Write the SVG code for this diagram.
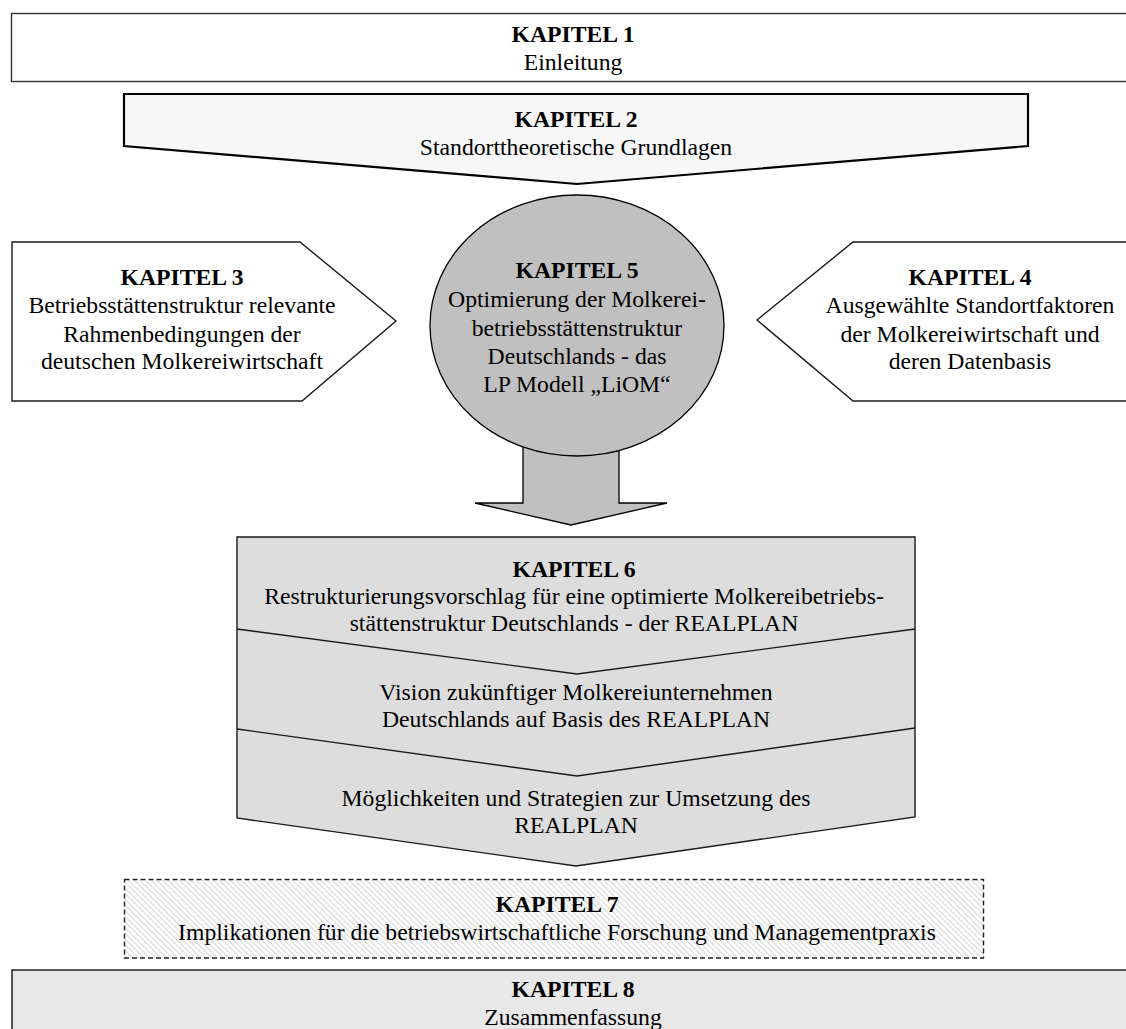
<svg xmlns="http://www.w3.org/2000/svg" width="1126" height="1029" viewBox="0 0 1126 1029">
  <style>
    text { font-family: 'Liberation Serif', Tinos, 'DejaVu Serif', serif; font-size: 23.7px; fill: #000; text-anchor: middle; }
    .b { font-weight: bold; }
    .thin { stroke: #1a1a1a; stroke-width: 1.4; }
  </style>
  <defs>
    <pattern id="hatch" width="4" height="4" patternUnits="userSpaceOnUse" patternTransform="rotate(-45)">
      <rect width="4" height="4" fill="#ffffff"/>
      <line x1="0" y1="0" x2="0" y2="4" stroke="#c4c4c4" stroke-width="1.4"/>
    </pattern>
  </defs>

  <rect width="1126" height="1029" fill="#ffffff"/>

  <!-- Chapter 1 -->
  <g id="kapitel1">
    <rect x="11.5" y="13.5" width="1130" height="68" fill="#ffffff" stroke="#333" stroke-width="1.4"/>
    <text class="b" x="573" y="42">KAPITEL 1</text>
    <text x="573" y="70">Einleitung</text>
  </g>

  <!-- Chapter 2: downward chevron banner -->
  <g id="kapitel2">
    <polygon points="124,94 1028,94 1028,146 577,184 124,146" fill="#f7f7f7" stroke="#000" stroke-width="2.2"/>
    <text class="b" x="576" y="127">KAPITEL 2</text>
    <text x="576" y="155">Standorttheoretische Grundlagen</text>
  </g>

  <!-- Connectors: block arrow from chapter 5 to chapter 6 -->
  <g id="connectors">
    <polygon points="523,420 619,420 619,503 667,503 571,525 475,503 523,503" fill="#c0c0c0" stroke="#000" stroke-width="1.3"/>
  </g>

  <!-- Chapter 3: pentagon pointing right -->
  <g id="kapitel3">
    <polygon points="12,242 300,242 396,321 302,401 12,401" fill="#ffffff" class="thin"/>
    <text class="b" x="182" y="285">KAPITEL 3</text>
    <text x="182" y="313">Betriebsstättenstruktur relevante</text>
    <text x="182" y="342">Rahmenbedingungen der</text>
    <text x="182" y="369">deutschen Molkereiwirtschaft</text>
  </g>

  <!-- Chapter 4: pentagon pointing left -->
  <g id="kapitel4">
    <polygon points="1140,242 853,242 757,320 853,401 1140,401" fill="#ffffff" class="thin"/>
    <text class="b" x="970" y="285">KAPITEL 4</text>
    <text x="970" y="313">Ausgewählte Standortfaktoren</text>
    <text x="970" y="342">der Molkereiwirtschaft und</text>
    <text x="970" y="369">deren Datenbasis</text>
  </g>

  <!-- Chapter 5: central ellipse -->
  <g id="kapitel5">
    <ellipse cx="577" cy="325.5" rx="147" ry="130.5" fill="#c0c0c0" stroke="#000" stroke-width="1.3"/>
    <text class="b" x="577" y="278">KAPITEL 5</text>
    <text x="577" y="307">Optimierung der Molkerei-</text>
    <text x="577" y="336">betriebsstättenstruktur</text>
    <text x="577" y="364">Deutschlands - das</text>
    <text x="577" y="392">LP Modell „LiOM“</text>
  </g>

  <!-- Chapter 6: stacked chevrons -->
  <g id="kapitel6">
    <polygon points="237,537 915,537 915,817 576,866 237,818" fill="#dddddd" class="thin"/>
    <polyline points="237,629 577,674 915,629" fill="none" class="thin"/>
    <polyline points="237,729 577,776 915,728" fill="none" class="thin"/>
    <text class="b" x="574" y="577">KAPITEL 6</text>
    <text x="574" y="604">Restrukturierungsvorschlag für eine optimierte Molkereibetriebs-</text>
    <text x="574" y="631">stättenstruktur Deutschlands - der REALPLAN</text>
    <text x="576" y="700">Vision zukünftiger Molkereiunternehmen</text>
    <text x="576" y="727">Deutschlands auf Basis des REALPLAN</text>
    <text x="576" y="806">Möglichkeiten und Strategien zur Umsetzung des</text>
    <text x="576" y="833">REALPLAN</text>
  </g>

  <!-- Chapter 7: hatched, dashed outline -->
  <g id="kapitel7">
    <rect x="124.5" y="879.5" width="859" height="78.5" fill="url(#hatch)" stroke="#222" stroke-width="1.4" stroke-dasharray="5,3"/>
    <text class="b" x="557" y="912">KAPITEL 7</text>
    <text x="557" y="940">Implikationen für die betriebswirtschaftliche Forschung und Managementpraxis</text>
  </g>

  <!-- Chapter 8 -->
  <g id="kapitel8">
    <rect x="12" y="970" width="1130" height="80" fill="#e8e8e8" stroke="#111" stroke-width="1.4"/>
    <text class="b" x="573" y="997">KAPITEL 8</text>
    <text x="573" y="1025">Zusammenfassung</text>
  </g>
</svg>
